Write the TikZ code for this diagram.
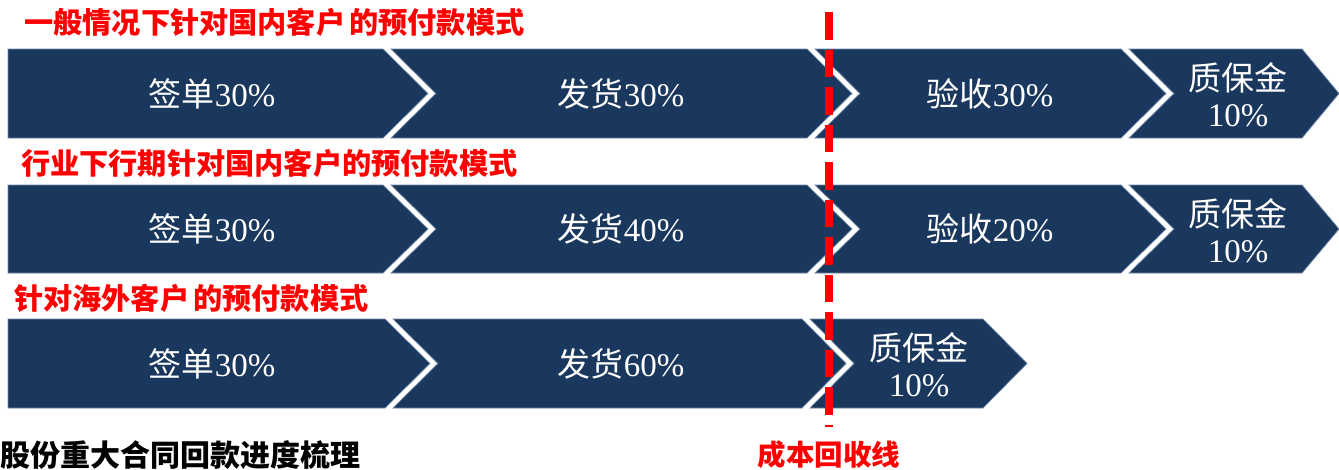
\documentclass[tikz,border=0pt]{standalone}
\usepackage{fontspec}
\setmainfont{Liberation Serif}
\newfontfamily\cjk{Noto Sans CJK SC}
\definecolor{navy}{HTML}{1A375D}
\definecolor{edgeblue}{HTML}{7088A8}
\tikzset{
  boxfill/.style={fill=navy, draw=edgeblue, line width=0.7pt},
  boxtext/.style={text=white, font=\fontsize{33}{36}\selectfont, inner sep=0pt, align=center},
  redtitle/.style={text=red, font=\cjk\bfseries\fontsize{29.2}{32}\selectfont, inner sep=0pt, anchor=west},
  costline/.style={red, line width=8.5pt, dash pattern=on 27.5pt off 10pt},
}
% #1 left x, #2 notch depth, #3 right top x, #4 tip depth, #5 top y, #6 bottom y
\newcommand{\mychev}[6]{%
  \path[boxfill] (#1,#5) -- (#3,#5) -- ({#3+#4},{(#5+#6)/2}) -- (#3,#6) -- (#1,#6) -- ({#1+#2},{(#5+#6)/2}) -- cycle;}
\begin{document}
\begin{tikzpicture}[x=1pt,y=-1pt]
\useasboundingbox (0,0) rectangle (1339,469);
\clip (0,0) rectangle (1339,469);
% row 1
\mychev{8}{0}{383}{45}{49}{138}
\mychev{391}{45}{807}{45}{49}{138}
\mychev{815}{45}{1121}{45}{49}{138}
\mychev{1129}{45}{1302}{37}{49}{138}
% row 2
\mychev{8}{0}{383}{45}{185}{273}
\mychev{391}{45}{807}{45}{185}{273}
\mychev{815}{45}{1121}{45}{185}{273}
\mychev{1129}{45}{1302}{37}{185}{273}
% row 3
\mychev{8}{0}{385}{45}{319}{408}
\mychev{393}{45}{802}{44}{319}{408}
\mychev{810}{44}{983}{44}{319}{408}
% texts row 1
\node[boxtext] (a1) at (212,93.5) {{\cjk 签单}30\%};
\node[boxtext] (a2) at (621,93.5) {{\cjk 发货}30\%};
\node[boxtext] (a3) at (990,93.5) {{\cjk 验收}30\%};
\node[boxtext] (a4) at (1238,95) {{\cjk 质保金}\\10\%};
% texts row 2
\node[boxtext] (b1) at (212,229) {{\cjk 签单}30\%};
\node[boxtext] (b2) at (621,229) {{\cjk 发货}40\%};
\node[boxtext] (b3) at (990,229) {{\cjk 验收}20\%};
\node[boxtext] (b4) at (1238,231) {{\cjk 质保金}\\10\%};
% texts row 3
\node[boxtext] (c1) at (212,363.5) {{\cjk 签单}30\%};
\node[boxtext] (c2) at (621,363.5) {{\cjk 发货}60\%};
\node[boxtext] (c3) at (919,365) {{\cjk 质保金}\\10\%};
% titles
\node[redtitle] (t1) at (24,22) {一般情况下针对国内客户\hspace{4pt}的预付款模式};
\node[redtitle] (t2) at (21,163) {行业下行期针对国内客户的预付款模式};
\node[redtitle] (t3) at (14,298) {针对海外客户\hspace{4pt}的预付款模式};
\node[text=black, font=\cjk\bfseries\fontsize{30}{34}\selectfont, inner sep=0pt, anchor=west] (bt) at (0.5,455) {股份重大合同回款进度梳理};
% cost line
\coordinate (ltop) at (829,12);
\coordinate (lbot) at (829,427);
\draw[costline] (ltop) -- (lbot);
\node[text=red, font=\cjk\bfseries\fontsize{28.5}{32}\selectfont, inner sep=0pt] (cl) at (829,455) {成本回收线};
\end{tikzpicture}
\end{document}
